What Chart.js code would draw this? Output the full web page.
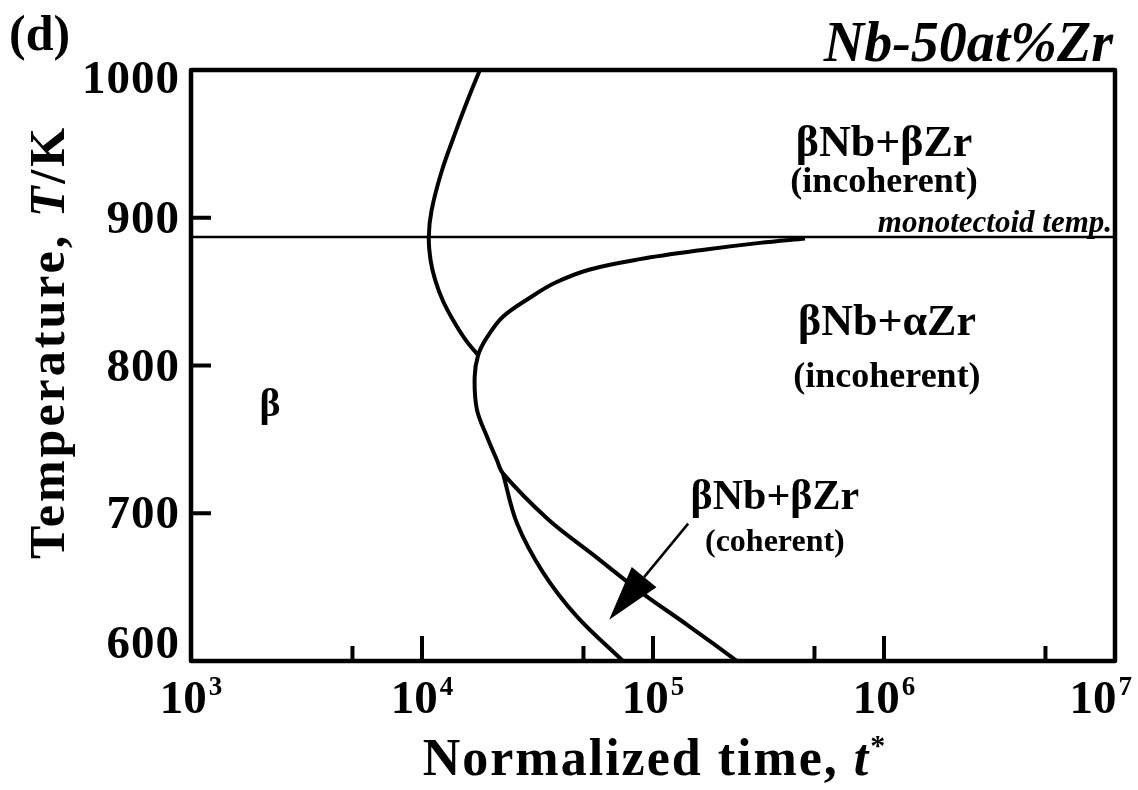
<!DOCTYPE html>
<html>
<head>
<meta charset="utf-8">
<title>Nb-50at%Zr TTT diagram</title>
<script src="https://cdn.jsdelivr.net/npm/chart.js@4.4.0/dist/chart.umd.min.js"></script>
<style>
  html, body { margin: 0; padding: 0; background: #fff; }
</style>
</head>
<body>
<canvas id="tttChart" width="1138" height="790"></canvas>
<script>
  // axis ticks
  const xTicks = [1e3, 1e4, 1e5, 1e6, 1e7];
  const xMinorTicks = [5e3, 5e4, 5e5, 5e6];
  const yTicks = [600, 700, 800, 900, 1000];

  // beta / (bNb+bZr incoherent) boundary, top edge down to the junction
  const betaEdgeTime = [17800, 15800, 14200, 12200, 11000, 10700, 10900, 11400, 12300, 13600, 15500, 17500];
  const betaEdgeTemp = [1000, 980, 961, 932, 905, 887, 871, 858, 844, 831, 817, 807];

  // incoherent C-curve, from the monotectoid tip round the nose to 600 K
  const incohTime = [455000, 290000, 160000, 87900, 53300, 37700, 29400, 22400, 19100, 17500, 16900, 17300, 19100, 21100, 22400, 35100, 55000, 87900, 142000, 231000];
  const incohTemp = [886, 883, 878, 872, 865, 856, 846, 833, 819, 807, 792, 770, 752, 736, 727, 696, 672, 647, 624, 600];

  // coherent branch, splits off the C-curve below ~727 K
  const cohTime = [22400, 25800, 33400, 46900, 74100];
  const cohTemp = [727, 693, 660, 630, 600];

  const monotectoidTemp = 887;

  const pts = (xs, ys) => xs.map((x, i) => ({ x: x, y: ys[i] }));

  const SERIF = "'Liberation Serif', 'DejaVu Serif', serif";

  function curve(data, width) {
    return { data: data, showLine: true, borderColor: '#000', borderWidth: width, pointRadius: 0, tension: 0.35, fill: false };
  }

  function drawRuns(ctx, runs, x, y, align, spacing) {
    ctx.letterSpacing = (spacing || 0) + 'px';
    let total = 0;
    runs.forEach(r => { ctx.font = r.font; r.w = ctx.measureText(r.text).width; total += r.w; });
    let cx = align === 'center' ? x - total / 2 : (align === 'right' ? x - total : x);
    runs.forEach(r => {
      ctx.font = r.font;
      ctx.fillText(r.text, cx, y + (r.dy || 0));
      cx += r.w;
    });
    ctx.letterSpacing = '0px';
  }

  // labels placed in data space (time, temperature)
  const regionLabels = [
    { text: 'βNb+βZr', t: 1.0e6, T: 949.5, size: 44 },
    { text: '(incoherent)', t: 1.0e6, T: 923.5, size: 36 },
    { text: 'βNb+αZr', t: 1.03e6, T: 828, size: 44 },
    { text: '(incoherent)', t: 1.03e6, T: 791.5, size: 36 },
    { text: 'β', t: 2200, T: 773, size: 40 },
    { text: 'βNb+βZr', t: 3.37e5, T: 710, size: 42 },
    { text: '(coherent)', t: 3.37e5, T: 680, size: 32 }
  ];
  const arrowFrom = { t: 1.42e5, T: 693 };
  const arrowTo = { t: 64600, T: 628 };

  const decorPlugin = {
    id: 'decor',
    afterDatasetsDraw(chart) {
      const ctx = chart.ctx;
      const a = chart.chartArea;
      const xs = chart.scales.x, ys = chart.scales.y;
      ctx.save();
      ctx.fillStyle = '#000';
      ctx.strokeStyle = '#000';

      // frame
      ctx.lineWidth = 4.5;
      ctx.lineJoin = 'round';
      ctx.strokeRect(a.left, a.top, a.right - a.left, a.bottom - a.top);

      // inward ticks
      ctx.lineWidth = 4;
      ctx.beginPath();
      xTicks.slice(1, -1).forEach(v => { const px = xs.getPixelForValue(v); ctx.moveTo(px, a.bottom); ctx.lineTo(px, a.bottom - 25); });
      xMinorTicks.forEach(v => { const px = xs.getPixelForValue(v); ctx.moveTo(px, a.bottom); ctx.lineTo(px, a.bottom - 15); });
      yTicks.slice(1, -1).forEach(v => { const py = ys.getPixelForValue(v); ctx.moveTo(a.left, py); ctx.lineTo(a.left + 20, py); });
      ctx.stroke();

      // y tick labels, kept inside the frame height at the ends
      ctx.textBaseline = 'alphabetic';
      ctx.font = 'bold 47px ' + SERIF;
      ctx.textAlign = 'right';
      ctx.letterSpacing = '1px';
      yTicks.forEach(v => {
        const py = ys.getPixelForValue(v);
        const base = Math.min(Math.max(py + 15, a.top + 23), a.bottom - 3);
        ctx.fillText(String(v), a.left - 11, base);
      });
      ctx.letterSpacing = '0px';

      // x tick labels as powers of ten
      ctx.textAlign = 'left';
      xTicks.forEach(v => {
        const px = xs.getPixelForValue(v);
        const exp = String(Math.round(Math.log10(v)));
        ctx.font = 'bold 47px ' + SERIF;
        const wb = ctx.measureText('10').width;
        ctx.font = 'bold 27px ' + SERIF;
        const we = ctx.measureText(exp).width;
        const w = wb + we + 2;
        const x0 = Math.min(px - w / 2, chart.width - 6 - w);
        ctx.font = 'bold 47px ' + SERIF;
        ctx.fillText('10', x0, 713);
        ctx.font = 'bold 27px ' + SERIF;
        ctx.fillText(exp, x0 + wb + 2, 695);
      });

      // axis titles
      drawRuns(ctx, [
        { text: 'Normalized time, ', font: 'bold 52px ' + SERIF },
        { text: 't', font: 'italic bold 52px ' + SERIF },
        { text: '*', font: 'bold 30px ' + SERIF, dy: -20 }
      ], 655, 775, 'center', 2);

      ctx.save();
      ctx.translate(64, 342);
      ctx.rotate(-Math.PI / 2);
      drawRuns(ctx, [
        { text: 'Temperature, ', font: 'bold 50px ' + SERIF },
        { text: 'T', font: 'italic bold 50px ' + SERIF },
        { text: '/K', font: 'bold 50px ' + SERIF }
      ], 0, 0, 'center', 3);
      ctx.restore();

      // panel letter and alloy name
      ctx.textAlign = 'left';
      ctx.font = 'bold 50px ' + SERIF;
      ctx.fillText('(d)', 9, 50);
      ctx.textAlign = 'right';
      ctx.font = 'italic bold 56px ' + SERIF;
      ctx.fillText('Nb-50at%Zr', a.right - 2, 61);

      ctx.font = 'italic bold 31px ' + SERIF;
      ctx.fillText('monotectoid temp.', a.right - 3, ys.getPixelForValue(monotectoidTemp) - 5);

      // phase region labels
      ctx.textAlign = 'center';
      ctx.textBaseline = 'middle';
      regionLabels.forEach(l => {
        ctx.font = 'bold ' + l.size + 'px ' + SERIF;
        ctx.fillText(l.text, xs.getPixelForValue(l.t), ys.getPixelForValue(l.T));
      });

      // arrow pointing into the coherent region
      const x1 = xs.getPixelForValue(arrowFrom.t), y1 = ys.getPixelForValue(arrowFrom.T);
      const x2 = xs.getPixelForValue(arrowTo.t), y2 = ys.getPixelForValue(arrowTo.T);
      const ang = Math.atan2(y2 - y1, x2 - x1);
      const headLen = 55, headHalf = 16;
      const bx = x2 - headLen * Math.cos(ang), by = y2 - headLen * Math.sin(ang);
      ctx.lineWidth = 2.5;
      ctx.beginPath();
      ctx.moveTo(x1, y1);
      ctx.lineTo(bx, by);
      ctx.stroke();
      ctx.beginPath();
      ctx.moveTo(x2, y2);
      ctx.lineTo(bx + headHalf * Math.sin(ang), by - headHalf * Math.cos(ang));
      ctx.lineTo(bx - headHalf * Math.sin(ang), by + headHalf * Math.cos(ang));
      ctx.closePath();
      ctx.fill();

      ctx.restore();
    }
  };

  new Chart(document.getElementById('tttChart'), {
    type: 'scatter',
    data: {
      datasets: [
        curve([{ x: xTicks[0], y: monotectoidTemp }, { x: xTicks[xTicks.length - 1], y: monotectoidTemp }], 2.5),
        curve(pts(betaEdgeTime, betaEdgeTemp), 4),
        curve(pts(incohTime, incohTemp), 4),
        curve(pts(cohTime, cohTemp), 4)
      ]
    },
    options: {
      responsive: false,
      animation: false,
      layout: { padding: { left: 191, right: 23, top: 70, bottom: 129 } },
      plugins: { legend: { display: false }, tooltip: { enabled: false } },
      scales: {
        x: { type: 'logarithmic', min: 1e3, max: 1e7, display: false },
        y: { type: 'linear', min: 600, max: 1000, display: false }
      }
    },
    plugins: [decorPlugin]
  });
</script>
</body>
</html>
